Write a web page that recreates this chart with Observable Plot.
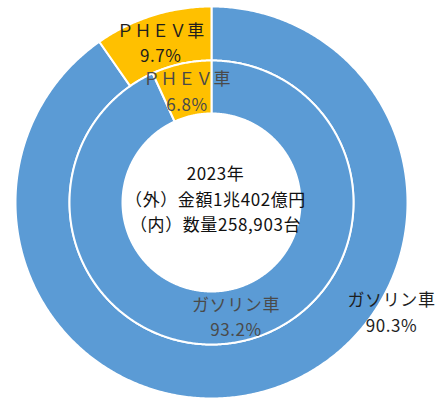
<!DOCTYPE html>
<html><head><meta charset="utf-8">
<script src="https://cdn.jsdelivr.net/npm/d3@7"></script>
<script src="https://cdn.jsdelivr.net/npm/@observablehq/plot@0.6"></script>
<style>body{margin:0;background:#fff} svg text{letter-spacing:0.6px}</style>
</head><body><div id="chart"></div>
<script>
// ---- data ----
const categories = ["ガソリン車", "ＰＨＥＶ車"];
const outerValues = [90.3, 9.7];   // (外) 金額シェア %
const innerValues = [93.2, 6.8];   // (内) 数量シェア %
const centerLines = ["2023年", "（外）金額1兆402億円", "（内）数量258,903台"];
const colors = ["#5B9BD5", "#FFC000"];

// ---- layout ----
const W = 440, H = 405, cx = 211, cy = 202;
const rings = [
  {name: "outer", values: outerValues, r0: 142, r1: 196, text: "#1e1e1e"},
  {name: "inner", values: innerValues, r0: 89, r1: 142, text: "#4a4a4a"}
];
// manual label placement override (polar: degrees clockwise from top, radius)
const labelOverride = {"outer-0": {angle: 121, r: 210}};

const rad = d => d * Math.PI / 180;
const pts = [], labels = [];
for (const ring of rings) {
  const total = d3.sum(ring.values);
  let start = 0;
  ring.values.forEach((v, i) => {
    const a0 = start, a1 = start + v / total * 360;
    start = a1;
    const key = ring.name + "-" + i;
    const n = Math.max(2, Math.ceil((a1 - a0) / 0.5));
    const outerArc = d3.range(n + 1).map(k => a0 + (a1 - a0) * k / n);
    for (const a of outerArc) pts.push({key, cat: categories[i], x: ring.r1 * Math.sin(rad(a)), y: ring.r1 * Math.cos(rad(a))});
    for (const a of outerArc.slice().reverse()) pts.push({key, cat: categories[i], x: ring.r0 * Math.sin(rad(a)), y: ring.r0 * Math.cos(rad(a))});
    const ov = labelOverride[key];
    const am = ov ? ov.angle : (a0 + a1) / 2;
    const rm = ov ? ov.r : (ring.r0 + ring.r1) / 2;
    labels.push({x: rm * Math.sin(rad(am)), y: rm * Math.cos(rad(am)),
      text: categories[i] + "\n" + v.toFixed(1) + "%", color: ring.text});
  });
}

const chart = Plot.plot({
  width: W, height: H,
  margin: 0,
  x: {type: "linear", domain: [-cx, W - cx], range: [0, W], axis: null},
  y: {type: "linear", domain: [cy - H, cy], range: [H, 0], axis: null},
  color: {domain: categories, range: colors},
  style: {fontFamily: "'Noto Sans CJK JP', sans-serif", background: "#fff"},
  marks: [
    Plot.line(pts, {x: "x", y: "y", z: "key", fill: "cat", stroke: "white", strokeWidth: 2, curve: "linear-closed"}),
    Plot.text(labels, {x: "x", y: "y", text: "text", fill: d => d.color, fontSize: 17, lineHeight: 1.5}),
    Plot.text([centerLines.join("\n")], {x: [4], y: [5], text: d => d, fill: "#111", fontSize: 17, lineHeight: 1.5})
  ]
});
document.getElementById("chart").appendChild(chart);
</script>
</body></html>
